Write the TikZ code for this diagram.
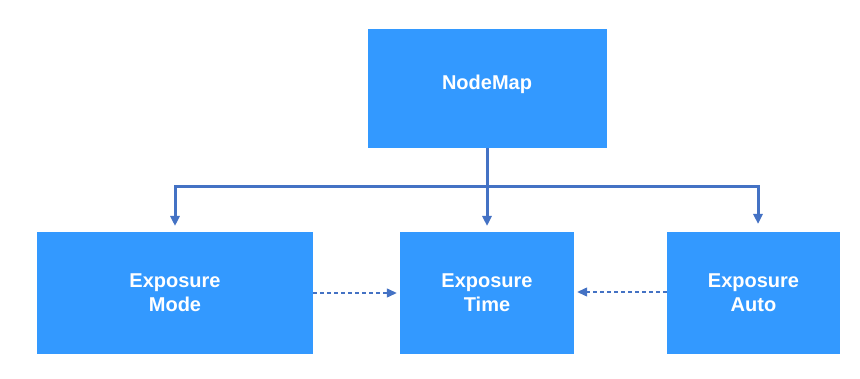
\documentclass[tikz,border=0pt]{standalone}
\usepackage{fontspec}
\setmainfont{Liberation Sans}
\usetikzlibrary{arrows.meta}
\definecolor{boxblue}{HTML}{3399FF}
\definecolor{lineblue}{HTML}{4472C4}
\tikzset{
  box/.style={fill=boxblue, draw=none, text=white, font=\fontsize{20}{24}\selectfont\bfseries, align=center, inner sep=0pt},
  conn/.style={draw=lineblue, line width=3pt, -{Triangle[width=9pt,length=10pt]}},
  dconn/.style={draw=lineblue, line width=1.3pt, dash pattern=on 4pt off 3pt, -{Triangle[width=9pt,length=10pt]}}
}
\begin{document}
\begin{tikzpicture}[x=1pt,y=-1pt]
\useasboundingbox (0,0) rectangle (860,379);
\node[box, minimum width=239pt, minimum height=119pt, text height=14.5pt, text depth=13pt] (nm) at (487,88.5) {NodeMap};
\node[box, minimum width=276pt, minimum height=122pt] (mode) at (175,293) {Exposure\\Mode};
\node[box, minimum width=174pt, minimum height=122pt] (time) at (487,293) {Exposure\\Time};
\node[box, minimum width=173pt, minimum height=122pt] (auto) at (753.5,293) {Exposure\\Auto};
\coordinate (j) at (487,187);
\coordinate (l) at (175,187);
\coordinate (r) at (758,187);
\coordinate (le) at (175,226);
\coordinate (re) at (758,224);
\coordinate (te) at (487,226);
\draw[draw=lineblue, line width=3pt] (nm.south) -- (j);
\draw[conn] (j) -- (te);
\draw[conn] ([xshift=-1.5pt]j) -- (l) -- (le);
\draw[conn] ([xshift=1.5pt]j) -- (r) -- (re);
\draw[dconn] (mode.east) -- ([xshift=-3pt]time.west);
\draw[dconn] ([yshift=1pt]auto.west) -- ([xshift=3pt,yshift=1pt]time.east);
\end{tikzpicture}
\end{document}
